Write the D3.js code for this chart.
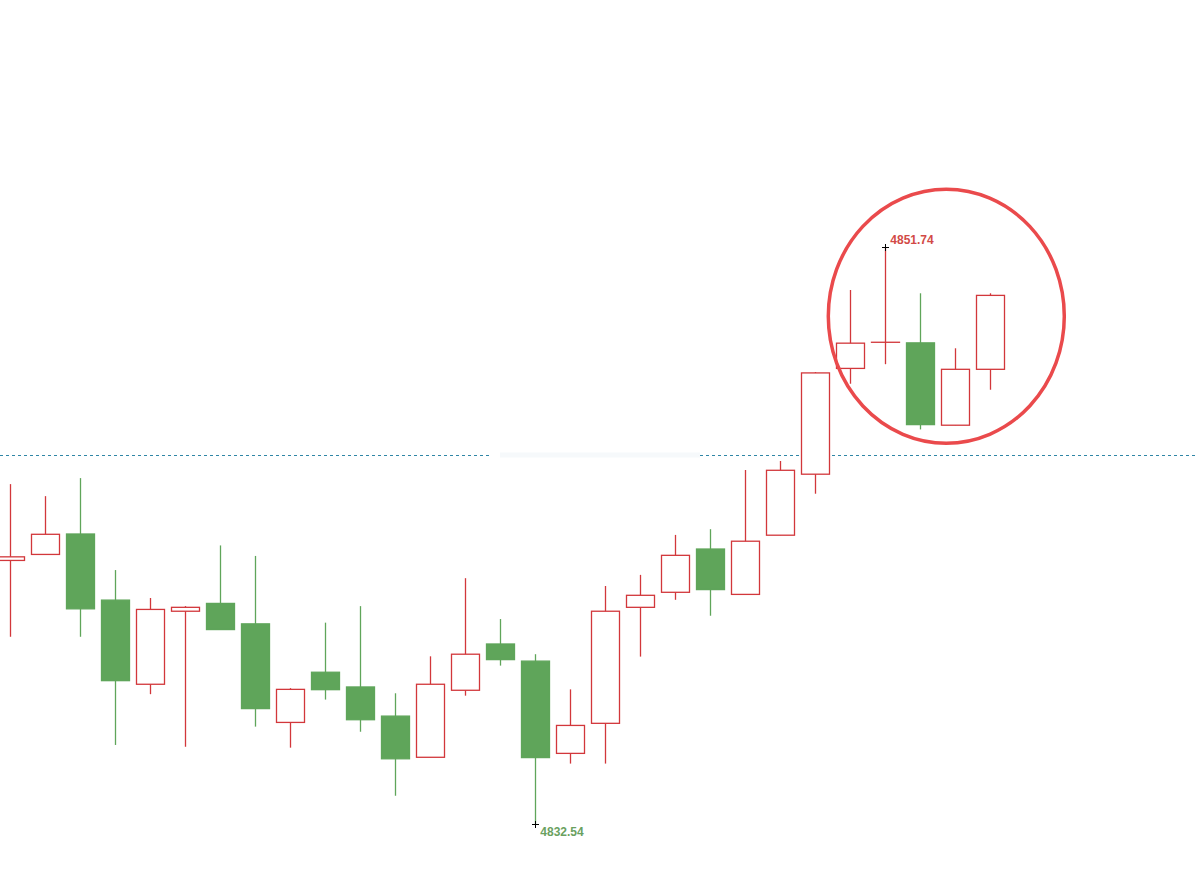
<!DOCTYPE html>
<html>
<head>
<meta charset="utf-8">
<script src="https://cdn.jsdelivr.net/npm/d3@7"></script>
<style>
  html, body { margin: 0; padding: 0; background: #ffffff; }
  svg { display: block; }
</style>
</head>
<body>
<div id="chart"></div>
<script>
// ---- data ----
const opens  = [4841.31, 4841.51, 4842.19, 4839.99, 4837.19, 4839.62, 4839.88, 4839.20, 4835.92, 4837.59,
                4837.10, 4836.13, 4834.76, 4836.99, 4838.53, 4837.96, 4834.89, 4835.89, 4839.75, 4840.25,
                4841.69, 4840.18, 4842.15, 4844.18, 4847.70, 4848.57, 4848.55, 4845.81, 4847.67];
const highs  = [4843.85, 4843.45, 4844.05, 4840.99, 4840.06, 4839.79, 4841.81, 4841.46, 4837.06, 4839.24,
                4839.79, 4836.89, 4838.12, 4840.72, 4839.36, 4838.19, 4837.02, 4840.46, 4840.83, 4842.16,
                4842.35, 4844.32, 4844.62, 4847.58, 4850.31, 4851.74, 4850.20, 4848.37, 4850.20];
const lows   = [4838.77, 4841.51, 4838.77, 4835.17, 4836.86, 4835.11, 4839.01, 4835.78, 4835.08, 4836.68,
                4835.61, 4833.48, 4834.76, 4836.81, 4837.81, 4832.54, 4834.55, 4834.55, 4838.11, 4840.00,
                4839.47, 4840.18, 4842.15, 4843.53, 4847.19, 4847.84, 4845.67, 4845.81, 4846.99];
const closes = [4841.43, 4842.18, 4839.70, 4837.31, 4839.68, 4839.75, 4839.01, 4836.38, 4837.02, 4837.01,
                4836.01, 4834.71, 4837.19, 4838.19, 4838.01, 4834.75, 4835.82, 4839.62, 4840.15, 4841.48,
                4840.34, 4841.95, 4844.31, 4847.55, 4848.54, 4848.57, 4845.83, 4847.67, 4850.13];
const refLevel = 4844.82;          // dashed horizontal line
const maxLabel = "4851.74";
const minLabel = "4832.54";
const highlightRange = [24, 28];   // candles inside the red circle

// ---- layout ----
const W = 1195, H = 893;
const svg = d3.select("#chart").append("svg").attr("width", W).attr("height", H);

const x = d3.scaleLinear().domain([0, opens.length - 1]).range([10.3, 990.3]);
const y = d3.scaleLinear().domain([4832.54, 4851.74]).range([824, 247]);
const bodyW = 28;

const RED = "#d2373b", GREEN = "#5fa55a";

const data = opens.map((o, i) => ({ i, o, h: highs[i], l: lows[i], c: closes[i] }));

// dashed reference line (with a gap where a watermark sits)
const yl = Math.round(y(refLevel)) + 0.5;
[[0, 492], [700, W]].forEach(([a, b]) => {
  svg.append("line")
    .attr("x1", a).attr("x2", b).attr("y1", yl).attr("y2", yl)
    .attr("stroke", "#2f86a6").attr("stroke-width", 1)
    .attr("stroke-dasharray", "3,3");
});
// faint watermark smudge
svg.append("rect").attr("x", 500).attr("y", yl - 3).attr("width", 200).attr("height", 5)
  .attr("fill", "#eef3f8").attr("opacity", 0.5);

const g = svg.append("g");
const candle = g.selectAll("g.c").data(data).join("g").attr("class", "c");

// wicks
candle.append("line")
  .attr("x1", d => Math.round(x(d.i)) + 0.5).attr("x2", d => Math.round(x(d.i)) + 0.5)
  .attr("y1", d => y(d.h)).attr("y2", d => y(d.l))
  .attr("stroke", d => d.c >= d.o ? RED : GREEN).attr("stroke-width", 1.3);

// bodies
candle.append("rect")
  .attr("x", d => Math.round(x(d.i) - bodyW / 2) + 0.5)
  .attr("y", d => y(Math.max(d.o, d.c)))
  .attr("width", bodyW)
  .attr("height", d => Math.max(0.01, Math.abs(y(d.o) - y(d.c))))
  .attr("fill", d => d.c >= d.o ? "#ffffff" : GREEN)
  .attr("stroke", d => d.c >= d.o ? RED : GREEN)
  .attr("stroke-width", 1.3);

// extreme markers
const iMax = d3.maxIndex(highs), iMin = d3.minIndex(lows);
function cross(cx, cy) {
  svg.append("line").attr("x1", cx - 3.5).attr("x2", cx + 3.5).attr("y1", cy).attr("y2", cy)
    .attr("stroke", "#000").attr("stroke-width", 1);
  svg.append("line").attr("x1", cx).attr("x2", cx).attr("y1", cy - 3.5).attr("y2", cy + 3.5)
    .attr("stroke", "#000").attr("stroke-width", 1);
}
cross(Math.round(x(iMax)) + 0.5, Math.round(y(highs[iMax])) + 0.5);
cross(Math.round(x(iMin)) + 0.5, Math.round(y(lows[iMin])) + 0.5);

svg.append("text").text(maxLabel)
  .attr("x", x(iMax) + 5).attr("y", y(highs[iMax]) - 3)
  .attr("font-family", "Arial, 'Liberation Sans', sans-serif").attr("font-size", 12)
  .attr("font-weight", "bold").attr("fill", "#d24a46");
svg.append("text").text(minLabel)
  .attr("x", x(iMin) + 5).attr("y", y(lows[iMin]) + 12)
  .attr("font-family", "Arial, 'Liberation Sans', sans-serif").attr("font-size", 12)
  .attr("font-weight", "bold").attr("fill", "#6aa15f");

// highlight ellipse around the last candles
const cx = (x(highlightRange[0]) + x(highlightRange[1])) / 2 + 26;
const hiMax = d3.max(highs.slice(highlightRange[0], highlightRange[1] + 1));
const loMin = d3.min(lows.slice(highlightRange[0], highlightRange[1] + 1));
const cy = (y(hiMax) + y(loMin)) / 2 - 22;
svg.append("ellipse")
  .attr("cx", cx).attr("cy", cy).attr("rx", 118).attr("ry", 127)
  .attr("fill", "none").attr("stroke", "#ea4a4c").attr("stroke-width", 3.5);
</script>
</body>
</html>
